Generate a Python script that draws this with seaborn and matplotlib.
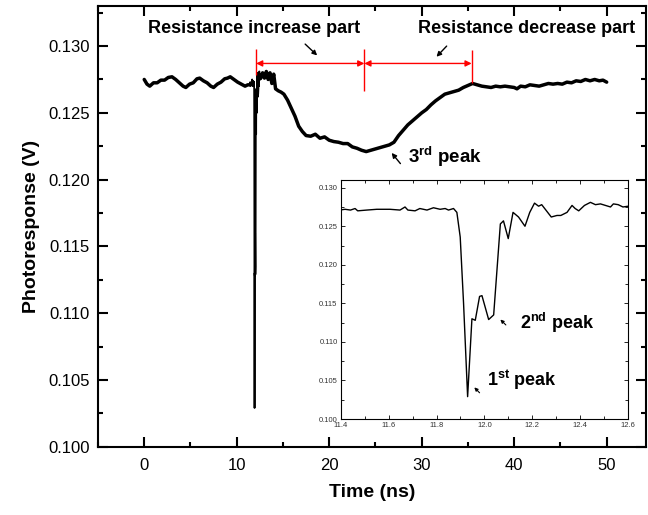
import matplotlib
matplotlib.use("Agg")
import matplotlib.pyplot as plt
from matplotlib.ticker import MultipleLocator, FormatStrFormatter
import seaborn as sns
import pandas as pd

# ---------------- data ----------------
# baseline before the pulse (ns, V)
t_pre = [0.0, 0.3, 0.6, 1.0, 1.4, 1.8, 2.2, 2.6, 3.0, 3.4, 3.8, 4.2, 4.5, 4.9,
         5.3, 5.7, 6.0, 6.4, 6.8, 7.2, 7.5, 7.9, 8.3, 8.7, 9.0, 9.3, 9.7, 10.1,
         10.5, 10.9, 11.2, 11.4]
v_pre = [0.12750, 0.12715, 0.12700, 0.12725, 0.12725, 0.12745, 0.12745, 0.12765,
         0.12770, 0.12750, 0.12725, 0.12700, 0.12690, 0.12715, 0.12725, 0.12755,
         0.12760, 0.12740, 0.12725, 0.12700, 0.12690, 0.12715, 0.12730, 0.12755,
         0.12760, 0.12770, 0.12750, 0.12730, 0.12715, 0.12700, 0.12710, 0.12710]

# fast pulse (inset detail)
t_fast = [11.393, 11.417, 11.44, 11.459, 11.47, 11.508, 11.55, 11.605, 11.647,
          11.668, 11.68, 11.71, 11.73, 11.76, 11.787, 11.815, 11.836, 11.85,
          11.871, 11.885, 11.899, 11.913, 11.93, 11.948, 11.962, 11.98, 11.99,
          12.018, 12.039, 12.067, 12.08, 12.10, 12.12, 12.143, 12.17, 12.19,
          12.21, 12.227, 12.24, 12.28, 12.304, 12.32, 12.346, 12.367, 12.38,
          12.395, 12.419, 12.444, 12.465, 12.486, 12.507, 12.528, 12.54, 12.56,
          12.58, 12.602]
v_fast = [0.1271, 0.1272, 0.1271, 0.1273, 0.1270, 0.1271, 0.1272, 0.1272, 0.1271,
          0.1275, 0.1271, 0.1270, 0.1273, 0.1271, 0.1274, 0.1272, 0.1273, 0.1271,
          0.1273, 0.1268, 0.1236, 0.1150, 0.1029, 0.1130, 0.1128, 0.1159, 0.1160,
          0.1129, 0.1135, 0.1253, 0.1257, 0.1234, 0.1268, 0.1262, 0.1250, 0.1268,
          0.1280, 0.1276, 0.1278, 0.1262, 0.1264, 0.1264, 0.1268, 0.1277, 0.1273,
          0.1270, 0.1277, 0.1281, 0.1278, 0.1279, 0.1277, 0.1275, 0.1279, 0.1278,
          0.1275, 0.1276]

# slow recovery after the pulse
t_post = [12.602, 12.8, 13.0, 13.2, 13.4, 13.6, 13.8, 14.0, 14.2, 14.5, 14.8,
          15.1, 15.5, 15.9, 16.3, 16.7, 17.1, 17.5, 18.0, 18.5, 19.0, 19.5,
          20.0, 20.5, 21.0, 21.5, 22.0, 22.5, 23.0, 23.5, 24.0, 24.5, 25.0,
          25.5, 26.0, 26.5, 27.0, 27.5, 28.0, 28.5, 29.0, 29.5, 30.0, 30.5,
          31.0, 31.5, 32.0, 32.5, 33.0, 33.5, 34.0, 34.5, 35.0, 35.5, 36.0,
          36.5, 37.0, 37.5, 38.0, 38.5, 39.0, 39.5, 40.0, 40.3, 40.7, 41.2,
          41.7, 42.2, 42.7, 43.2, 43.7, 44.2, 44.7, 45.2, 45.7, 46.2, 46.7,
          47.2, 47.7, 48.2, 48.7, 49.2, 49.6, 50.0]
v_post = [0.12760, 0.12800, 0.12760, 0.12810, 0.12750, 0.12800, 0.12720, 0.12790,
          0.12680, 0.12665, 0.12655, 0.12640, 0.12595, 0.12535, 0.12475, 0.12400,
          0.12360, 0.12330, 0.12325, 0.12340, 0.12310, 0.12320, 0.12295, 0.12285,
          0.12280, 0.12270, 0.12270, 0.12245, 0.12235, 0.12220, 0.12210, 0.12220,
          0.12230, 0.12240, 0.12250, 0.12260, 0.12280, 0.12330, 0.12370, 0.12410,
          0.12440, 0.12470, 0.12500, 0.12525, 0.12560, 0.12590, 0.12615, 0.12640,
          0.12650, 0.12660, 0.12670, 0.12690, 0.12705, 0.12720, 0.12710, 0.12700,
          0.12695, 0.12690, 0.12700, 0.12695, 0.12700, 0.12695, 0.12690, 0.12680,
          0.12700, 0.12695, 0.12710, 0.12705, 0.12700, 0.12710, 0.12720, 0.12715,
          0.12720, 0.12715, 0.12730, 0.12725, 0.12740, 0.12735, 0.12750, 0.12740,
          0.12750, 0.12740, 0.12745, 0.12730]

region_bounds = [12.1, 23.8, 35.4]          # red markers (ns)
region_labels = ["Resistance increase part", "Resistance decrease part"]
peak_labels = ["1$^{\\mathbf{st}}$ peak", "2$^{\\mathbf{nd}}$ peak", "3$^{\\mathbf{rd}}$ peak"]

# ---------------- style ----------------
sns.set_style("ticks")
plt.rcParams["font.family"] = ["Liberation Sans", "DejaVu Sans"]
plt.rcParams["mathtext.fontset"] = "custom"
plt.rcParams["mathtext.rm"] = "Liberation Sans"
plt.rcParams["mathtext.bf"] = "Liberation Sans:bold"
for k in ["text.color", "axes.labelcolor", "xtick.color", "ytick.color",
          "axes.edgecolor"]:
    plt.rcParams[k] = "black"

fig = plt.figure(figsize=(6.48, 5.15), dpi=100)
ax = fig.add_axes([0.1512, 0.1326, 0.8464, 0.8557])

df_pre = pd.DataFrame({"t": t_pre, "v": v_pre})
df_fast = pd.DataFrame({"t": t_fast, "v": v_fast})
df_post = pd.DataFrame({"t": t_post, "v": v_post})

sns.lineplot(data=df_pre, x="t", y="v", ax=ax, color="black", lw=2.5,
             estimator=None, sort=False)
sns.lineplot(data=df_fast, x="t", y="v", ax=ax, color="black", lw=1.3,
             estimator=None, sort=False)
sns.lineplot(data=df_post, x="t", y="v", ax=ax, color="black", lw=2.5,
             estimator=None, sort=False)

ax.set_xlim(-5, 54.3)
ax.set_ylim(0.100, 0.133)
ax.xaxis.set_major_locator(MultipleLocator(10))
ax.xaxis.set_minor_locator(MultipleLocator(5))
ax.yaxis.set_major_locator(MultipleLocator(0.005))
ax.yaxis.set_minor_locator(MultipleLocator(0.0025))
ax.yaxis.set_major_formatter(FormatStrFormatter("%.3f"))
ax.tick_params(which="both", direction="in", top=True, right=True, width=1.5,
               colors="black")
ax.tick_params(which="major", length=7, labelsize=12)
ax.tick_params(axis="x", which="major", pad=8)
ax.tick_params(axis="y", which="major", pad=6)
ax.tick_params(which="minor", length=3.5)
for s in ax.spines.values():
    s.set_linewidth(1.5)
    s.set_color("black")
ax.set_xlabel("Time (ns)", fontsize=14, fontweight="bold", labelpad=8,
              color="black")
ax.set_ylabel("Photoresponse (V)", fontsize=14, fontweight="bold", labelpad=6,
              color="black")

# red region markers
ax.vlines(region_bounds[0], 0.1278, 0.1298, color="red", lw=1)
ax.vlines(region_bounds[1], 0.1266, 0.1298, color="red", lw=1)
ax.vlines(region_bounds[2], 0.1272, 0.1297, color="red", lw=1)
for a, b in zip(region_bounds[:-1], region_bounds[1:]):
    ax.annotate("", xy=(b, 0.1287), xytext=(a, 0.1287),
                arrowprops=dict(arrowstyle="<|-|>", color="red", lw=1,
                                mutation_scale=9, shrinkA=0, shrinkB=0))

ax.text(11.9, 0.13135, region_labels[0], fontsize=13, fontweight="bold",
        ha="center", va="center", color="black")
ax.text(41.3, 0.13135, region_labels[1], fontsize=13, fontweight="bold",
        ha="center", va="center", color="black")
ax.annotate("", xy=(18.7, 0.1293), xytext=(17.4, 0.13015),
            arrowprops=dict(arrowstyle="-|>", color="black", lw=1,
                            mutation_scale=7, shrinkA=0, shrinkB=0))
ax.annotate("", xy=(31.6, 0.1292), xytext=(32.7, 0.1300),
            arrowprops=dict(arrowstyle="-|>", color="black", lw=1,
                            mutation_scale=7, shrinkA=0, shrinkB=0))
ax.annotate("", xy=(26.75, 0.1220), xytext=(27.7, 0.1212),
            arrowprops=dict(arrowstyle="-|>", color="black", lw=1,
                            mutation_scale=7, shrinkA=0, shrinkB=0))
ax.text(28.5, 0.1217, peak_labels[2], fontsize=13.5, fontweight="bold",
        ha="left", va="center", color="black")

# ---------------- inset ----------------
axi = fig.add_axes([0.5262, 0.1864, 0.4425, 0.4641])
sns.lineplot(data=df_fast, x="t", y="v", ax=axi, color="black", lw=1.0,
             estimator=None, sort=False)
axi.set_xlim(11.4, 12.6)
axi.set_ylim(0.100, 0.131)
axi.xaxis.set_major_locator(MultipleLocator(0.2))
axi.xaxis.set_minor_locator(MultipleLocator(0.1))
axi.yaxis.set_major_locator(MultipleLocator(0.005))
axi.yaxis.set_minor_locator(MultipleLocator(0.0025))
axi.xaxis.set_major_formatter(FormatStrFormatter("%.1f"))
axi.yaxis.set_major_formatter(FormatStrFormatter("%.3f"))
axi.tick_params(which="both", direction="in", top=True, right=True, width=0.6,
                labelsize=5.5, colors="black", labelcolor="#333333", pad=2.5)
axi.tick_params(which="major", length=3)
axi.tick_params(which="minor", length=2)
for s in axi.spines.values():
    s.set_linewidth(0.8)
    s.set_color("black")
axi.set_xlabel("")
axi.set_ylabel("")

axi.annotate("", xy=(12.067, 0.1129), xytext=(12.09, 0.1122),
             arrowprops=dict(arrowstyle="-|>", color="black", lw=0.8,
                             mutation_scale=5, shrinkA=0, shrinkB=0))
axi.text(12.15, 0.1125, peak_labels[1], fontsize=13, fontweight="bold",
         ha="left", va="center", color="black")
axi.annotate("", xy=(11.958, 0.1041), xytext=(11.98, 0.1034),
             arrowprops=dict(arrowstyle="-|>", color="black", lw=0.8,
                             mutation_scale=5, shrinkA=0, shrinkB=0))
axi.text(12.01, 0.1051, peak_labels[0], fontsize=13, fontweight="bold",
         ha="left", va="center", color="black")

fig.savefig("out.png", dpi=100)
